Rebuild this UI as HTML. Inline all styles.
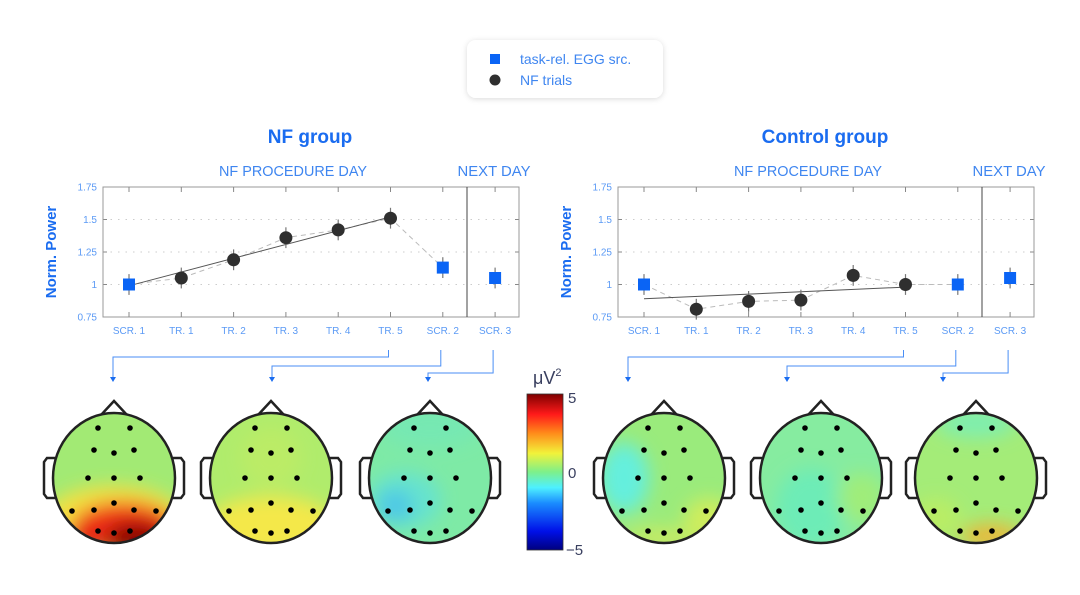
<!DOCTYPE html>
<html><head><meta charset="utf-8">
<style>
html,body{margin:0;padding:0;background:#fff;}
svg{display:block;font-family:"Liberation Sans",sans-serif;}
</style></head>
<body>
<svg id="root" width="1080" height="595" viewBox="0 0 1080 595" xmlns="http://www.w3.org/2000/svg">
<defs>
  <filter id="shadow" x="-20%" y="-40%" width="140%" height="180%">
    <feDropShadow dx="0" dy="1" stdDeviation="3" flood-color="#000" flood-opacity="0.15"/>
  </filter>
  <filter id="blur" x="-50%" y="-50%" width="200%" height="200%"><feGaussianBlur stdDeviation="9"/></filter>
  <linearGradient id="jet" x1="0" y1="1" x2="0" y2="0">
    <stop offset="0" stop-color="#00007f"/>
    <stop offset="0.12" stop-color="#0010e8"/>
    <stop offset="0.3" stop-color="#1a8cff"/>
    <stop offset="0.4" stop-color="#4ef0ff"/>
    <stop offset="0.5" stop-color="#7df08a"/>
    <stop offset="0.62" stop-color="#f2f23a"/>
    <stop offset="0.75" stop-color="#ff8a1a"/>
    <stop offset="0.87" stop-color="#ff1a1a"/>
    <stop offset="1" stop-color="#7f0000"/>
  </linearGradient>
</defs>

<g>
  <rect x="467" y="40" width="196" height="58" rx="9" fill="#fff" filter="url(#shadow)"/>
  <rect x="490" y="54" width="10" height="10" fill="#0a64f5"/>
  <text x="520" y="64" font-size="14" fill="#3f86f0">task-rel. EGG src.</text>
  <circle cx="495" cy="80" r="5.5" fill="#2f2f2f"/>
  <text x="520" y="85" font-size="14" fill="#3f86f0">NF trials</text>
</g>

<g id="charts"></g>
<g id="heads"></g>

<g>
  <rect x="527" y="394" width="36" height="156" fill="url(#jet)" stroke="#333" stroke-width="0.8"/>
  <text x="533" y="384" font-size="18" fill="#3a4060">μV<tspan font-size="11" dy="-8">2</tspan></text>
  <text x="568" y="403" font-size="15" fill="#3a4060">5</text>
  <text x="568" y="478" font-size="15" fill="#3a4060">0</text>
  <text x="566" y="555" font-size="15" fill="#3a4060">−5</text>
</g>
</svg>
<script>
const categories=["SCR. 1","TR. 1","TR. 2","TR. 3","TR. 4","TR. 5","SCR. 2","SCR. 3"];
const yTicks=[0.75,1,1.25,1.5,1.75];
const yTickLabels=["0.75","1","1.25","1.5","1.75"];
const nfValues=[1.0,1.05,1.19,1.36,1.42,1.51,1.13,1.05];
const nfErrors=[0.08,0.08,0.08,0.08,0.08,0.08,0.08,0.08];
const nfTrend=[0.99,1.52];
const ctrlValues=[1.0,0.81,0.87,0.88,1.07,1.0,1.0,1.05];
const ctrlErrors=[0.08,0.08,0.08,0.08,0.08,0.08,0.08,0.08];
const ctrlTrend=[0.89,0.98];
const markerTypes=["square","circle","circle","circle","circle","circle","square","square"];

const NS="http://www.w3.org/2000/svg";
function mk(tag,attrs,parent){const e=document.createElementNS(NS,tag);for(const k in attrs)e.setAttribute(k,attrs[k]);parent.appendChild(e);return e;}
const charts=document.getElementById('charts');
const BLUE="#3f86f0",TICKBLUE="#5b9af5";

function drawChart(ox,title,vals,errs,trend,key){
  const g=mk('g',{},charts);
  
  
  const L=ox+103,R=ox+519,T=187,B=317,D=ox+467;
  const x=i=>ox+129+i*52.3;
  const y=v=>B-(v-0.75)*(B-T)/1.0;
  const t=mk('text',{x:ox+310,y:143,'font-size':19,'font-weight':'bold',fill:'#1a6cf0','text-anchor':'middle'},g);
  t.textContent=title;
  
  
  const s1=mk('text',{x:ox+293,y:176,'font-size':15,fill:BLUE,'text-anchor':'middle',textLength:148,lengthAdjust:'spacingAndGlyphs'},g);
  s1.textContent="NF PROCEDURE DAY";
  
  
  const s2=mk('text',{x:ox+494,y:176,'font-size':15,fill:BLUE,'text-anchor':'middle',textLength:73,lengthAdjust:'spacingAndGlyphs'},g);
  s2.textContent="NEXT DAY";
  
  
  const yl=mk('text',{x:0,y:0,'font-size':15,'font-weight':'bold',fill:'#1a6cf0','text-anchor':'middle',transform:`translate(${ox+56},252) rotate(-90)`},g);
  yl.textContent="Norm. Power";
  
  
  yTicks.forEach((v,i)=>{
    if(i>0&&i<yTicks.length-1){const gl=mk('line',{x1:L,x2:R,y1:y(v),y2:y(v),stroke:'#ccc','stroke-dasharray':'1.5 6'},g);
      }
    const tk=mk('line',{x1:L,x2:L+4,y1:y(v),y2:y(v),stroke:'#888'},g);
    
    const tk2=mk('line',{x1:R-4,x2:R,y1:y(v),y2:y(v),stroke:'#888'},g);
    
    const lb=mk('text',{x:L-6,y:y(v)+3.5,'font-size':10,fill:TICKBLUE,'text-anchor':'end'},g);
    lb.textContent=yTickLabels[i];
    
  });
  const box=mk('rect',{x:L,y:T,width:R-L,height:B-T,fill:'none',stroke:'#999','stroke-width':1},g);
  
  const dv=mk('line',{x1:D,x2:D,y1:T,y2:B,stroke:'#444','stroke-width':1},g);
  
  categories.forEach((c,i)=>{
    const a=mk('line',{x1:x(i),x2:x(i),y1:T,y2:T+5,stroke:'#888'},g);
    
    const b=mk('line',{x1:x(i),x2:x(i),y1:B-5,y2:B,stroke:'#888'},g);
    
    const lb=mk('text',{x:x(i),y:B+17,'font-size':10,fill:TICKBLUE,'text-anchor':'middle'},g);
    lb.textContent=c;
    
  });
  let d="";
  for(let i=0;i<7;i++)d+=(i?"L":"M")+x(i)+","+y(vals[i]);
  const dl=mk('path',{d:d,fill:'none',stroke:'#bbb','stroke-dasharray':'5 4','stroke-width':1},g);
  
  const tl=mk('line',{x1:x(0),y1:y(trend[0]),x2:x(5),y2:y(trend[1]),stroke:'#555','stroke-width':1},g);
  
  vals.forEach((v,i)=>{
    const eb=mk('line',{x1:x(i),x2:x(i),y1:y(v-errs[i]),y2:y(v+errs[i]),stroke:'#777','stroke-width':1.2},g);
    
    let m;
    if(markerTypes[i]==="square"){m=mk('rect',{x:x(i)-6,y:y(v)-6,width:12,height:12,fill:'#0a64f5'},g);}
    else{m=mk('circle',{cx:x(i),cy:y(v),r:6.5,fill:'#2f2f2f'},g);}
    
    
  });
  const arr=[[5,357,ox+113],[6,366,ox+272],[7,373,ox+428]];
  arr.forEach(a=>{
    const xs=x(a[0])-2;
    const p=mk('path',{d:`M${xs},350 L${xs},${a[1]} L${a[2]},${a[1]} L${a[2]},378`,fill:'none',stroke:'#4a8ef5','stroke-width':1},g);
    
    const h=mk('path',{d:`M${a[2]-3},377 L${a[2]+3},377 L${a[2]},382 Z`,fill:'#1a6cf0'},g);
    
  });
}
drawChart(0,"NF group",nfValues,nfErrors,nfTrend,"nf-group");
drawChart(515,"Control group",ctrlValues,ctrlErrors,ctrlTrend,"control-group");

const heads=document.getElementById('heads');
const headCenters=[114,271,430,664,821,976];
const headBase=["#a2ea74","#b0ec6c","#7eeaa6","#9aeb7c","#86eca0","#a4ec78"];
const blobs=[
 [[0,42,70,34,"#f6e040",1],[10,50,52,26,"#f03018",1],[22,60,30,16,"#8a0000",1],[-30,62,20,12,"#e01818",0.9]],
 [[0,48,65,30,"#f4e848",1],[0,-20,30,30,"#c8ee60",0.5]],
 [[-35,28,18,16,"#2a90f5",1],[-25,22,36,28,"#5ce0e0",0.7],[0,-50,50,20,"#6ee8c0",0.5]],
 [[-40,0,25,35,"#5ef0e8",0.9],[45,40,25,20,"#e6ee50",0.7],[0,60,40,10,"#eaea50",0.6]],
 [[-10,30,35,40,"#62ecc0",0.7],[40,20,25,25,"#b0ee60",0.6]],
 [[0,-55,40,15,"#6ef0c8",0.7],[15,58,30,12,"#f4b030",0.9],[-40,40,25,20,"#c8ee58",0.6]]
];
const electrodes=[[-16,-50],[16,-50],[-20,-28],[0,-25],[20,-28],[-26,0],[0,0],[26,0],[-42,33],[-20,32],[0,25],[20,32],[42,33],[-16,53],[0,55],[16,53]];
headCenters.forEach((cx,hi)=>{
  const cy=478;
  const g=mk('g',{},heads);
  
  
  const cp=mk('clipPath',{id:'clip'+hi},g);
  mk('ellipse',{cx:cx,cy:cy,rx:61,ry:65},cp);
  mk('path',{d:`M${cx-13},${cy-63} L${cx},${cy-77} L${cx+13},${cy-63}`,fill:'none',stroke:'#222','stroke-width':2.5},g);
  mk('path',{d:`M${cx-59},${cy-20} L${cx-67},${cy-20} L${cx-70},${cy-16} L${cx-70},${cy+16} L${cx-67},${cy+20} L${cx-58},${cy+20}`,fill:'none',stroke:'#222','stroke-width':2.5},g);
  mk('path',{d:`M${cx+59},${cy-20} L${cx+67},${cy-20} L${cx+70},${cy-16} L${cx+70},${cy+16} L${cx+67},${cy+20} L${cx+58},${cy+20}`,fill:'none',stroke:'#222','stroke-width':2.5},g);
  const inner=mk('g',{'clip-path':`url(#clip${hi})`},g);
  mk('rect',{x:cx-70,y:cy-70,width:140,height:140,fill:headBase[hi]},inner);
  const bg=mk('g',{filter:'url(#blur)'},inner);
  blobs[hi].forEach(b=>mk('ellipse',{cx:cx+b[0],cy:cy+b[1],rx:b[2],ry:b[3],fill:b[4],opacity:b[5]},bg));
  const outline=mk('ellipse',{cx:cx,cy:cy,rx:61,ry:65,fill:'none',stroke:'#222','stroke-width':2.5},g);
  
  
  electrodes.forEach(e=>{
    const d=mk('circle',{cx:cx+e[0],cy:cy+e[1],r:2.8,fill:'#000'},g);
    
    
  });
});
</script>
</body></html>
